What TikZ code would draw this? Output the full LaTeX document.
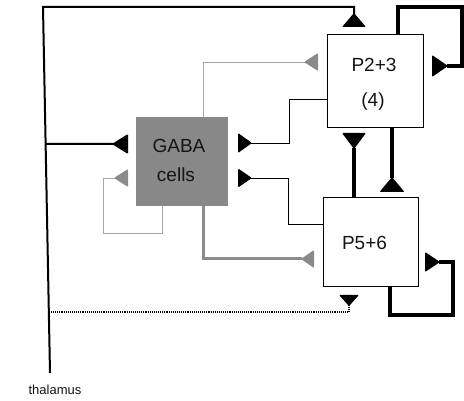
\documentclass[tikz,border=0pt]{standalone}
\usepackage{fontspec}
\setmainfont{Liberation Sans}
\usetikzlibrary{calc}
\definecolor{gfill}{HTML}{888888}
\definecolor{gsyn}{HTML}{8A8A8A}
\definecolor{glight}{HTML}{A8A8A8}
\definecolor{gthick}{HTML}{8C8C8C}
\definecolor{ink}{HTML}{151515}
\begin{document}
\begin{tikzpicture}[x=1pt,y=-1pt,
  box/.style={draw=black, line width=1pt, fill=white, inner sep=0pt, outer sep=0pt},
  gbox/.style={draw=none, fill=gfill, inner sep=0pt, outer sep=0pt},
  lbl/.style={text=ink, font=\fontsize{19}{21}\selectfont, inner sep=0pt, anchor=base},
  small/.style={text=ink, font=\fontsize{13}{15}\selectfont, inner sep=0pt, anchor=base},
  med/.style={draw=black, line width=2pt},
  thinb/.style={draw=black, line width=0.9pt},
  thing/.style={draw=glight, line width=0.8pt},
  thickg/.style={draw=gthick, line width=3pt},
  heavy/.style={draw=black, line width=3.4pt},
  loopline/.style={draw=black, line width=4.2pt},
  dotline/.style={draw=black, line width=1.1pt, densely dotted},
  pics/syn/.style args={#1/#2}{code={
    \fill[rounded corners=1pt] (-1,0) -- (#1,-#2) -- (#1,#2) -- cycle;}}
]
\useasboundingbox[fill=white] (0,0) rectangle (464,401);

% boxes
\node[box, minimum width=96pt, minimum height=93pt] (P23) at (375,81.5) {};
\node[box, minimum width=95pt, minimum height=89pt] (P56) at (370.5,242.5) {};
\node[gbox, minimum width=92pt, minimum height=89pt] (GABA) at (182,161.5) {};

% texts
\node[lbl] (t23) at (374,72) {P2+3};
\node[lbl] (t4) at (373,107) {(4)};
\node[lbl] (tg) at (179,153) {GABA};
\node[lbl] (tc) at (176,182) {cells};
\node[lbl] (t56) at (364.5,250) {P5+6};
\node[small] (thal) at (55,394) {thalamus};

% thalamus line
\coordinate (thtop) at (43,7);
\coordinate (thbot) at (50,373);

% synapse tips
\coordinate (s1) at (354,14);
\coordinate (s2) at (447,66);
\coordinate (s3) at (305,62);
\coordinate (s4) at (113,144);
\coordinate (s5) at (251,143);
\coordinate (s6) at (251,178);
\coordinate (s7) at (115,178);
\coordinate (s8) at (302,259);
\coordinate (s9) at (354,148);
\coordinate (s10) at (392,178);
\coordinate (s11) at (439,262);
\coordinate (s12) at (349,305);

% way points
\coordinate (c2) at (462,7);
\coordinate (a5) at (289,99);
\coordinate (a6) at (288,224);
\coordinate (a7) at (103,233);
\coordinate (c11) at (453,315);

% connectors
\draw[med] (thbot) -- (thtop) -- (thtop -| s1) -- (s1);
\draw[loopline] ([xshift=23]P23.north) |- (c2) |- (s2);
\draw[thing] ([xshift=21]GABA.north) |- (s3);
\draw[med] ($(thtop)!0.3743!(thbot)$) -- (s4);
\draw[thinb] (P23.west |- a5) -- (a5) |- (s5);
\draw[thinb] (P56.west |- a6) -- (a6) |- (s6);
\draw[thing] ([xshift=-20]GABA.south) |- (a7) |- (s7);
\draw[thickg] ([xshift=21]GABA.south) |- (s8);
\draw[heavy] (P56.north -| s9) -- (s9);
\draw[heavy] (P23.south -| s10) -- (s10);
\draw[loopline] ([xshift=19.5]P56.south) |- (c11) |- (s11);
\draw[dotline] ($(thtop)!0.8333!(thbot)$) -| (s12);

% synapses
\pic[color=black, rotate=270] at (s1) {syn=13/12};
\pic[color=black, rotate=180] at (s2) {syn=15/11};
\pic[color=gsyn, rotate=0] at (s3) {syn=13/9};
\pic[color=black, rotate=0] at (s4) {syn=15/10};
\pic[color=black, rotate=180] at (s5) {syn=13/10};
\pic[color=black, rotate=180] at (s6) {syn=13/9.5};
\pic[color=gsyn, rotate=0] at (s7) {syn=13/9};
\pic[color=gsyn, rotate=0] at (s8) {syn=12/9};
\pic[color=black, rotate=90] at (s9) {syn=15/12};
\pic[color=black, rotate=270] at (s10) {syn=14/12.5};
\pic[color=black, rotate=180] at (s11) {syn=14/10};
\pic[color=black, rotate=90] at (s12) {syn=10/10};
\end{tikzpicture}
\end{document}
